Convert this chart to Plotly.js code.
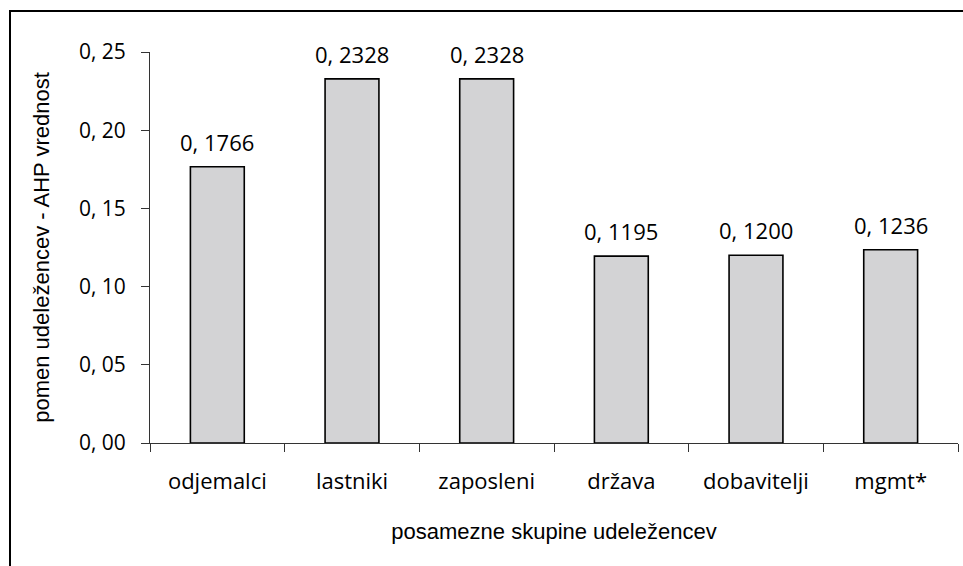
<!DOCTYPE html>
<html>
<head>
<meta charset="utf-8">
<script src="https://cdn.plot.ly/plotly-3.0.1.min.js"></script>
<style>html,body{margin:0;padding:0;background:#fff;}#chart{width:963px;height:566px;}</style>
</head>
<body>
<div id="chart"></div>
<script>
const categories = ["odjemalci", "lastniki", "zaposleni", "država", "dobavitelji", "mgmt*"];
const values = [0.1766, 0.2328, 0.2328, 0.1195, 0.1200, 0.1236];
const valueLabels = ["0, 1766", "0, 2328", "0, 2328", "0, 1195", "0, 1200", "0, 1236"];
const yTickVals = [0, 0.05, 0.10, 0.15, 0.20, 0.25];
const yTickText = ["0, 00", "0, 05", "0, 10", "0, 15", "0, 20", "0, 25"];

const W = 963, H = 566;
const L = 150, R = 5, T = 52, B = 123;
const pw = W - L - R, ph = H - T - B;
const px = x => (x - L) / pw;
const py = y => (H - B - y) / ph;

const labelFont = {family: "Open Sans, DejaVu Sans, sans-serif", size: 22, color: "#000"};
const tickFont = {family: "Open Sans, DejaVu Sans, sans-serif", size: 21, color: "#000"};
const titleFont = {family: "Liberation Sans, Arial, sans-serif", size: 22, color: "#000"};

const trace = {
  type: "bar",
  x: categories,
  y: values,
  marker: {color: "#d3d3d5", line: {color: "#000", width: 1.6}},
  hoverinfo: "none"
};

const annotations = categories.map((c, i) => ({
  x: c, y: values[i], xref: "x", yref: "y",
  text: valueLabels[i], showarrow: false,
  yanchor: "bottom", yshift: 8, font: labelFont
}));

const layout = {
  width: W, height: H,
  margin: {l: L, r: R, t: T, b: B},
  paper_bgcolor: "#fff", plot_bgcolor: "#fff",
  bargap: 0.6,
  showlegend: false,
  xaxis: {
    type: "category",
    showline: true, linecolor: "#333", linewidth: 1,
    ticks: "outside", tickson: "boundaries", ticklen: 8, tickcolor: "#333", tickwidth: 1,
    tickfont: labelFont, showgrid: false, zeroline: false,
    ticklabelstandoff: 19,
    title: {text: "posamezne skupine udeležencev", font: titleFont, standoff: 29}
  },
  yaxis: {
    range: [0, 0.25],
    showline: true, linecolor: "#333", linewidth: 1,
    ticks: "outside", ticklen: 8, tickcolor: "#333", tickwidth: 1,
    tickvals: yTickVals, ticktext: yTickText,
    tickfont: tickFont, showgrid: false, zeroline: false,
    ticklabelstandoff: 11,
    title: {text: "pomen udeležencev - AHP vrednost", font: titleFont, standoff: 23}
  },
  annotations: annotations,
  shapes: [{
    type: "rect", xref: "paper", yref: "paper",
    x0: px(10), x1: px(975), y0: py(580), y1: py(11),
    line: {color: "#000", width: 2}, fillcolor: "rgba(0,0,0,0)", layer: "above"
  }]
};

Plotly.newPlot("chart", [trace], layout, {displayModeBar: false, staticPlot: true});
</script>
</body>
</html>
